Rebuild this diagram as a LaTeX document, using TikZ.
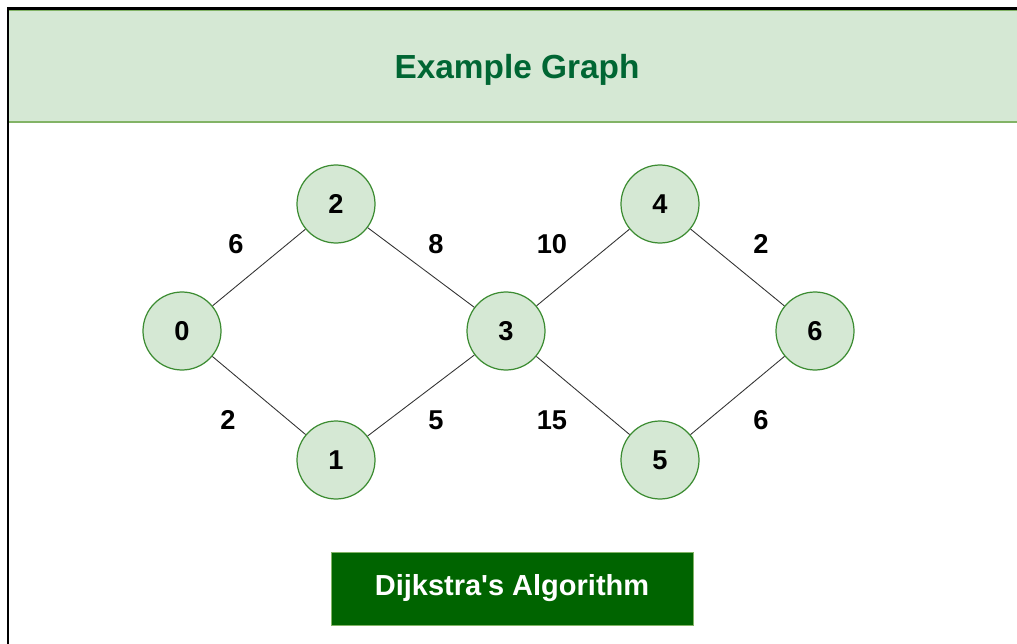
\documentclass[tikz,border=0pt]{standalone}
\usepackage{fontspec}
\setmainfont{Liberation Sans}
\usepackage{xcolor}
\usetikzlibrary{positioning}

\definecolor{verdeclaro}{HTML}{D5E8D4}
\definecolor{verdeborda}{HTML}{82B366}
\definecolor{verdeno}{RGB}{60,140,50}
\definecolor{verdetitulo}{RGB}{0,102,51}
\definecolor{verdeescuro}{RGB}{0,100,0}

\tikzset{
  vertice/.style={circle, draw=verdeno, fill=verdeclaro, line width=0.7pt,
    minimum size=1.56cm, inner sep=0pt, font=\fontsize{15.5}{18}\selectfont\bfseries},
  aresta/.style={draw=black!80, line width=0.5pt},
  peso/.style={font=\fontsize{15.5}{18}\selectfont\bfseries}
}

\begin{document}
\begin{tikzpicture}

\useasboundingbox (0,0) rectangle (20.34,12.86);

% Moldura e faixa do titulo
\fill[verdeclaro] (0.18,10.42) rectangle (20.6,12.68);
\draw[verdeborda, line width=1.2pt] (0.18,10.42) -- (20.6,10.42);
\draw[verdeborda, line width=0.5pt] (0.18,12.66) -- (20.6,12.66);
\draw[black, line width=1.2pt] (0.16,-0.5) -- (0.16,12.69) -- (20.6,12.69);

\node[font=\fontsize{19}{23}\selectfont\bfseries, text=verdetitulo] (titulo) at (10.34,11.47) {Example Graph};

% Vertices do grafo
\node[vertice] (v0) at (3.64,6.24) {0};
\node[vertice] (v2) at (6.72,8.78) {2};
\node[vertice] (v1) at (6.72,3.66) {1};
\node[vertice] (v3) at (10.12,6.24) {3};
\node[vertice] (v4) at (13.20,8.78) {4};
\node[vertice] (v5) at (13.20,3.66) {5};
\node[vertice] (v6) at (16.30,6.24) {6};

% Arestas
\draw[aresta] (v0) -- (v2);
\draw[aresta] (v0) -- (v1);
\draw[aresta] (v2) -- (v3);
\draw[aresta] (v1) -- (v3);
\draw[aresta] (v3) -- (v4);
\draw[aresta] (v3) -- (v5);
\draw[aresta] (v4) -- (v6);
\draw[aresta] (v5) -- (v6);

% Pesos das arestas
\node[peso] (p02) at (4.72,7.98) {6};
\node[peso] (p23) at (8.72,7.98) {8};
\node[peso] (p34) at (11.04,7.98) {10};
\node[peso] (p46) at (15.22,7.98) {2};
\node[peso] (p01) at (4.56,4.46) {2};
\node[peso] (p13) at (8.72,4.46) {5};
\node[peso] (p35) at (11.04,4.46) {15};
\node[peso] (p56) at (15.22,4.46) {6};

% Caixa do algoritmo
\node[draw=verdeborda, fill=verdeescuro, text=white, line width=0.5pt,
  minimum width=7.24cm, minimum height=1.46cm,
  font=\fontsize{16.5}{20}\selectfont\bfseries] (algoritmo) at (10.24,1.09) {Dijkstra\textquotesingle s Algorithm};

\end{tikzpicture}
\end{document}
